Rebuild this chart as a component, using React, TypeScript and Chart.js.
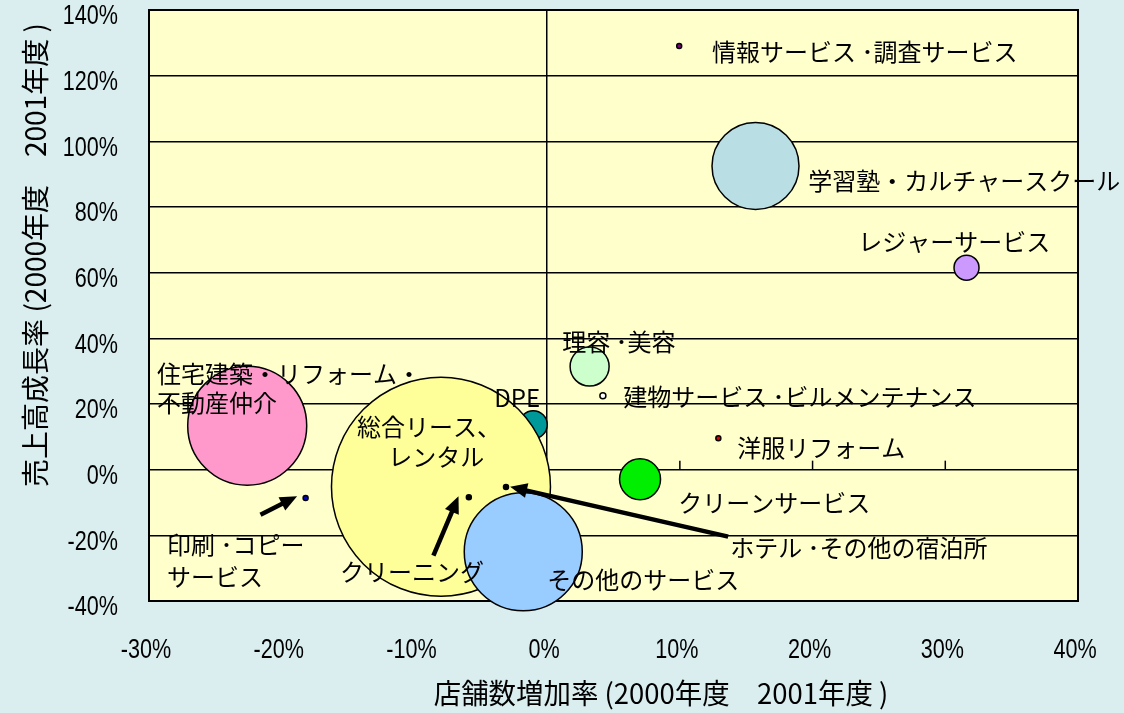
import React, { useEffect, useRef } from "react";
import { Chart, registerables } from "chart.js";

Chart.register(...registerables);

// ---- data ----
const categories = [
  "住宅建築・リフォーム・不動産仲介",
  "DPE",
  "総合リース、レンタル",
  "その他のサービス",
  "学習塾・カルチャースクール",
  "レジャーサービス",
  "理容・美容",
  "クリーンサービス",
  "建物サービス・ビルメンテナンス",
  "洋服リフォーム",
  "情報サービス・調査サービス",
  "印刷・コピーサービス",
  "クリーニング",
  "ホテル・その他の宿泊所",
];
// 店舗数増加率 (%)
const storeGrowth = [-22.6, -1.05, -8.0, -1.8, 15.7, 31.6, 3.2, 7.0, 4.2, 12.9, 9.95, -18.2, -5.9, -3.1];
// 売上高成長率 (%)
const salesGrowth = [13.4, 13.7, -5.2, -25.0, 92.5, 61.5, 31.4, -2.9, 22.5, 9.6, 129.0, -8.6, -8.4, -5.3];
// bubble size
const bubbleSize = [59.5, 14, 109.5, 59, 43.5, 12.5, 19.5, 20.5, 3, 2.5, 2.5, 2.5, 2.5, 2.5];

const xTickValues = [-30, -20, -10, 0, 10, 20, 30, 40];
const yTickValues = [-40, -20, 0, 20, 40, 60, 80, 100, 120, 140];
const xTickLabels = ["-30%", "-20%", "-10%", "0%", "10%", "20%", "30%", "40%"];
const yTickLabels = ["-40%", "-20%", "0%", "20%", "40%", "60%", "80%", "100%", "120%", "140%"];

const xTitle = "店舗数増加率 (2000年度　2001年度 )";
const yTitle = "売上高成長率 (2000年度　2001年度 )";

// ---- styles ----
const bubbleColors = [
  "#FF99CC",
  "#009999",
  "#FFFF99",
  "#99CCFF",
  "#B9DFE5",
  "#CC99FF",
  "#CCFFCC",
  "#00EE00",
  "#FFFFFF",
  "#E00000",
  "#800080",
  "#0000CC",
  "#000000",
  "#000000",
];

// labels placed in data coordinates (left edge, vertical middle)
const labelTexts = [
  "情報サービス ･調査サービス",
  "学習塾・カルチャースクール",
  "レジャーサービス",
  "理容 ･美容",
  "建物サービス ･ビルメンテナンス",
  "DPE",
  "洋服リフォーム",
  "クリーンサービス",
  "ホテル ･その他の宿泊所",
  "住宅建築・リフォーム・",
  "不動産仲介",
  "総合リース、",
  "レンタル",
  "印刷 ･コピー",
  "サービス",
  "クリーニング",
  "その他のサービス",
];
const labelX = [12.43, 19.67, 23.44, 1.13, 5.73, -3.99, 14.32, 9.87, 13.79, -29.39, -29.39, -14.32, -11.98, -28.64, -28.64, -15.6, 0.0];
const labelY = [127.2, 88.0, 69.4, 39.0, 22.2, 21.9, 6.7, -10.0, -23.7, 29.2, 20.4, 13.1, 4.0, -22.8, -32.6, -31.0, -33.5];

// arrows: from (tail) -> to (tip), data coordinates
const arrowFromX = [-21.6, -8.57, 13.64];
const arrowFromY = [-13.7, -26.2, -20.4];
const arrowToX = [-18.84, -6.68, -2.79];
const arrowToY = [-8.1, -8.1, -5.2];

const PAGE_BG = "#DAEEF0";
const PLOT_BG = "#FFFFCC";
const CJK = "'Noto Sans CJK JP', 'Noto Sans', sans-serif";
const SANS = "'Liberation Sans', Arial, sans-serif";

function narrowText(ctx: any, text: string, x: number, y: number, align: "left" | "right" | "center", sx: number) {
  ctx.save();
  ctx.translate(x, y);
  ctx.scale(sx, 1);
  ctx.textAlign = align;
  ctx.fillText(text, 0, 0);
  ctx.restore();
}

const decorPlugin = {
  id: "decor",
  beforeDraw(chart: any) {
    const { ctx, chartArea: a } = chart;
    ctx.save();
    ctx.fillStyle = PAGE_BG;
    ctx.fillRect(0, 0, chart.width, chart.height);
    ctx.fillStyle = PLOT_BG;
    ctx.fillRect(a.left, a.top, a.right - a.left, a.bottom - a.top);
    ctx.restore();
  },
  beforeDatasetsDraw(chart: any) {
    const { ctx, chartArea: a, scales } = chart;
    const xs = scales.x;
    const ys = scales.y;
    ctx.save();
    // tick marks on the zero line
    const y0 = ys.getPixelForValue(0);
    ctx.strokeStyle = "#000";
    ctx.lineWidth = 1.5;
    xTickValues.forEach((v) => {
      if (v === 0 || v === xTickValues[0] || v === xTickValues[xTickValues.length - 1]) return;
      const px = xs.getPixelForValue(v);
      ctx.beginPath();
      ctx.moveTo(px, y0);
      ctx.lineTo(px, y0 - 9);
      ctx.stroke();
    });
    // plot border
    ctx.lineWidth = 2;
    ctx.strokeRect(a.left, a.top, a.right - a.left, a.bottom - a.top);
    // tick labels
    ctx.fillStyle = "#000";
    ctx.font = `27px ${SANS}`;
    ctx.textBaseline = "middle";
    yTickValues.forEach((v, i) => {
      narrowText(ctx, yTickLabels[i], a.left - 31, ys.getPixelForValue(v) + 7, "right", 0.8);
    });
    xTickValues.forEach((v, i) => {
      narrowText(ctx, xTickLabels[i], xs.getPixelForValue(v) - 3, a.bottom + 50, "center", 0.8);
    });
    ctx.restore();
  },
  afterDatasetsDraw(chart: any) {
    const { ctx, scales } = chart;
    const xs = scales.x;
    const ys = scales.y;
    ctx.save();
    // labels
    ctx.fillStyle = "#000";
    ctx.font = `24px ${CJK}`;
    ctx.textAlign = "left";
    ctx.textBaseline = "middle";
    labelTexts.forEach((t, i) => {
      ctx.fillText(t, xs.getPixelForValue(labelX[i]), ys.getPixelForValue(labelY[i]));
    });
    // arrows
    arrowFromX.forEach((_, i) => {
      const x1 = xs.getPixelForValue(arrowFromX[i]);
      const y1 = ys.getPixelForValue(arrowFromY[i]);
      const x2 = xs.getPixelForValue(arrowToX[i]);
      const y2 = ys.getPixelForValue(arrowToY[i]);
      const ang = Math.atan2(y2 - y1, x2 - x1);
      const headLen = 17;
      const headW = 7.5;
      const bx = x2 - headLen * Math.cos(ang);
      const by = y2 - headLen * Math.sin(ang);
      ctx.strokeStyle = "#000";
      ctx.lineWidth = 4.5;
      ctx.lineCap = "butt";
      ctx.beginPath();
      ctx.moveTo(x1, y1);
      ctx.lineTo(bx + 2 * Math.cos(ang), by + 2 * Math.sin(ang));
      ctx.stroke();
      ctx.fillStyle = "#000";
      ctx.beginPath();
      ctx.moveTo(x2, y2);
      ctx.lineTo(bx + headW * Math.sin(ang), by - headW * Math.cos(ang));
      ctx.lineTo(bx - headW * Math.sin(ang), by + headW * Math.cos(ang));
      ctx.closePath();
      ctx.fill();
    });
    ctx.restore();
  },
  afterDraw(chart: any) {
    const { ctx } = chart;
    ctx.save();
    ctx.fillStyle = "#000";
    ctx.font = `28px ${CJK}`;
    ctx.textBaseline = "middle";
    narrowText(ctx, xTitle, 661, 693, "center", 0.98);
    ctx.translate(35, 255);
    ctx.rotate(-Math.PI / 2);
    narrowText(ctx, yTitle, 0, 0, "center", 1.0);
    ctx.restore();
  },
};

export default function App() {
  const ref = useRef<HTMLCanvasElement | null>(null);

  useEffect(() => {
    const canvas = ref.current;
    if (!canvas) return;
    const chart = new Chart(canvas, {
      type: "bubble",
      data: {
        labels: categories,
        datasets: [
          {
            label: "業種",
            data: storeGrowth.map((x, i) => ({ x, y: salesGrowth[i], r: bubbleSize[i] })),
            backgroundColor: bubbleColors,
            borderColor: "#000",
            borderWidth: 1.5,
            hoverRadius: 0,
            clip: false,
          } as any,
        ],
      },
      options: {
        responsive: false,
        animation: false,
        events: [],
        layout: { autoPadding: false, padding: { top: 10, right: 46, left: 149, bottom: 112 } },
        plugins: {
          legend: { display: false },
          tooltip: { enabled: false },
        },
        scales: {
          x: {
            type: "linear",
            min: -30,
            max: 40,
            afterBuildTicks: (s: any) => {
              s.ticks = xTickValues.map((v) => ({ value: v }));
            },
            ticks: { display: false },
            grid: {
              drawTicks: false,
              color: (c: any) => (c.tick && c.tick.value === 0 ? "#000" : "rgba(0,0,0,0)"),
              lineWidth: 1.5,
            },
            border: { display: false },
          },
          y: {
            type: "linear",
            min: -40,
            max: 140,
            afterBuildTicks: (s: any) => {
              s.ticks = yTickValues.map((v) => ({ value: v }));
            },
            ticks: { display: false },
            grid: {
              drawTicks: false,
              color: "#000",
              lineWidth: 1.5,
            },
            border: { display: false },
          },
        },
      } as any,
      plugins: [decorPlugin],
    });
    return () => chart.destroy();
  }, []);

  return (
    <div style={{ position: "absolute", left: 0, top: 0, width: 1124, height: 713 }}>
      <canvas ref={ref} width={1124} height={713} style={{ display: "block" }} />
    </div>
  );
}
